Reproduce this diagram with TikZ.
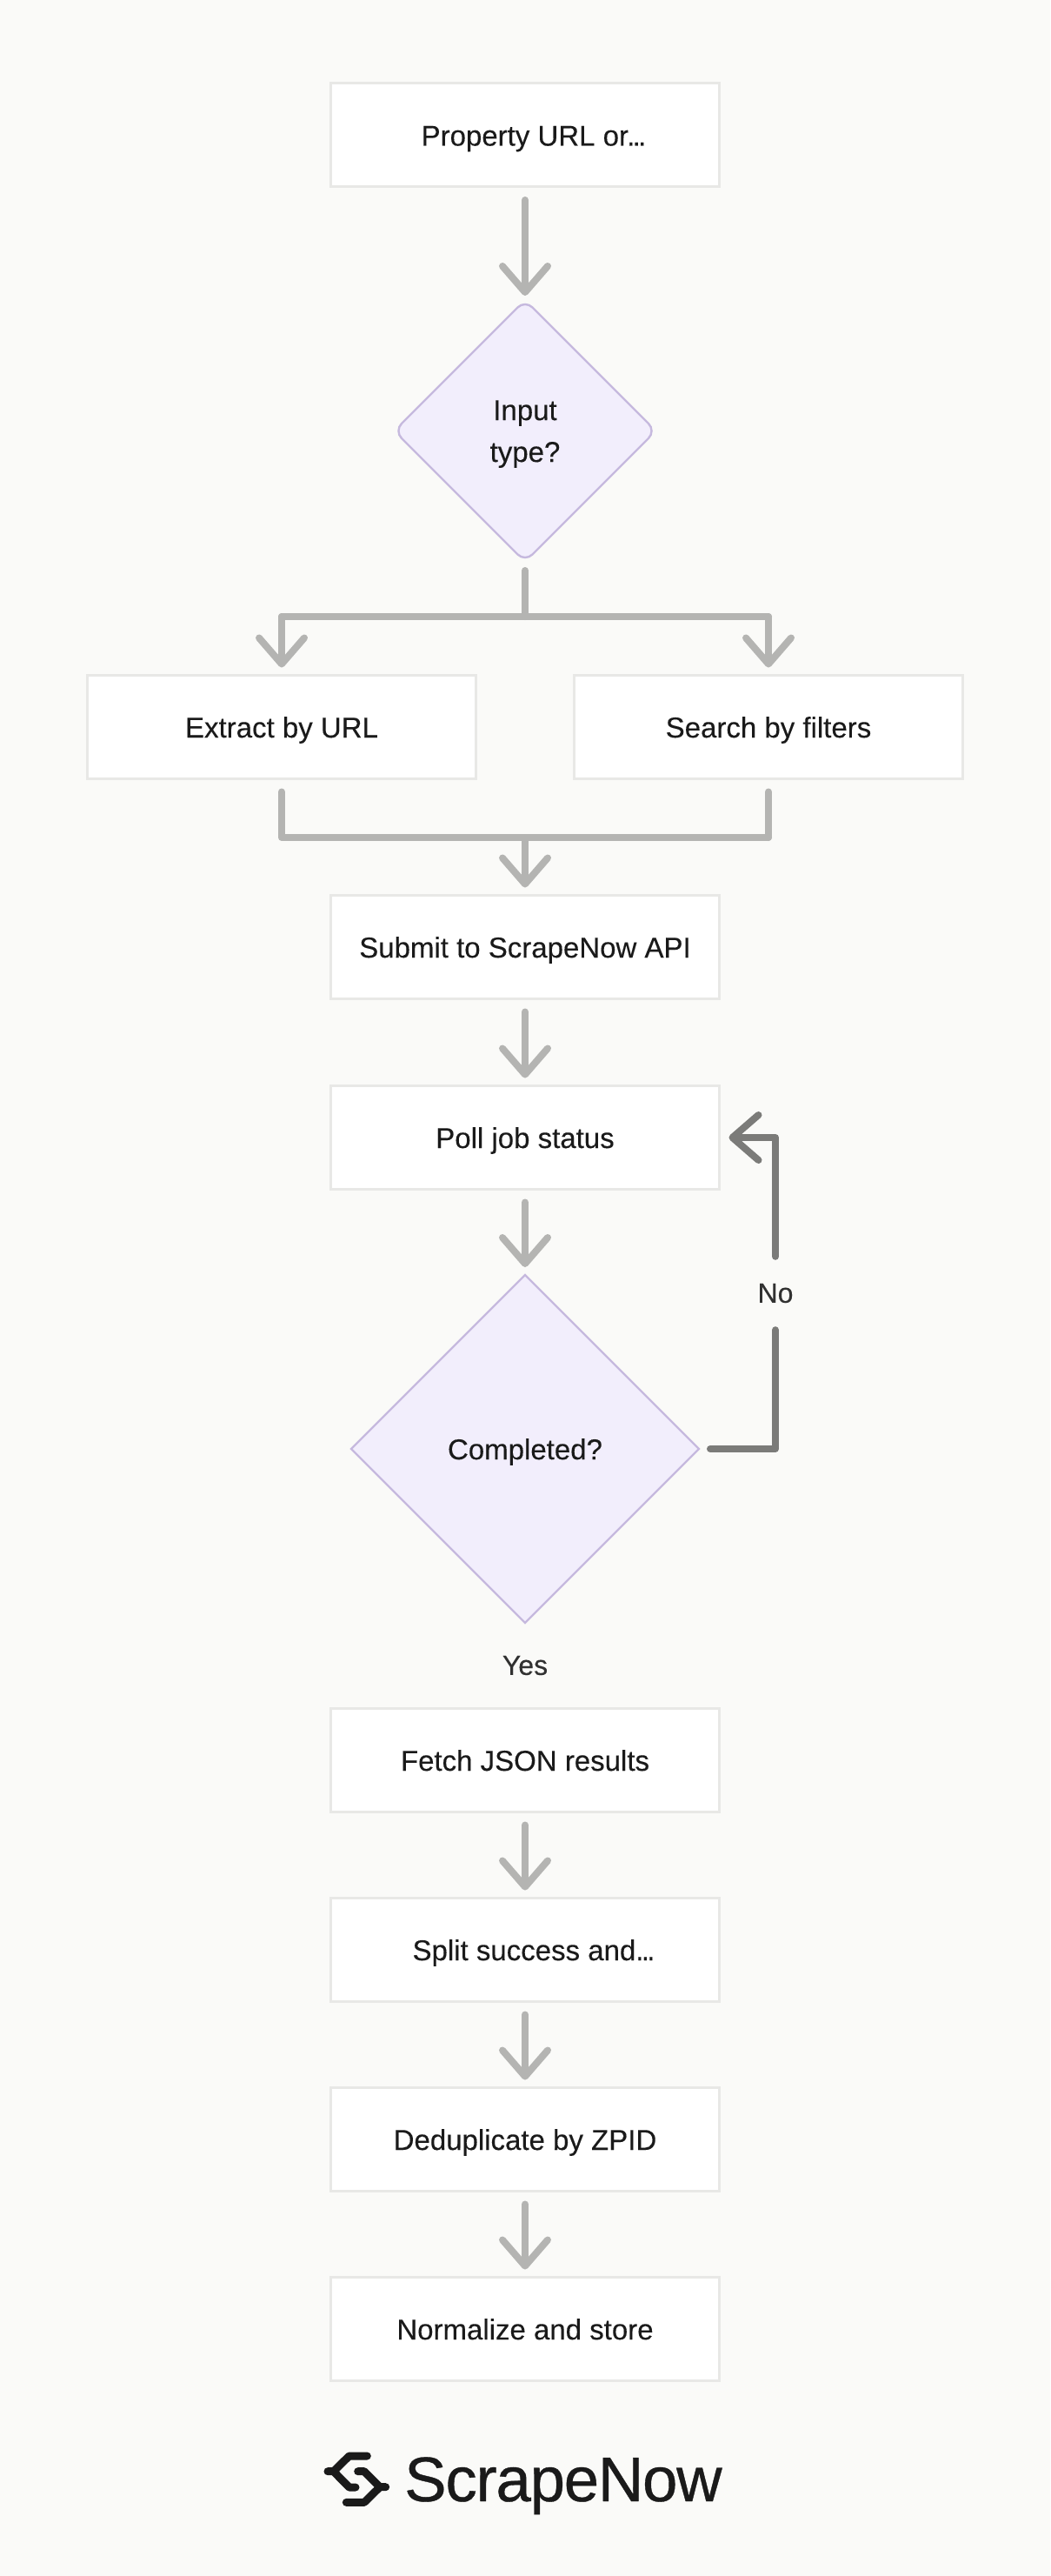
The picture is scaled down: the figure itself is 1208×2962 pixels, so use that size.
\documentclass[tikz,border=0pt]{standalone}
\usepackage{fontspec}
\setmainfont[FakeBold=0.2]{Liberation Sans}
\newfontfamily\logofont[LetterSpace=-1.7,FakeBold=0.5]{Liberation Sans}
\usetikzlibrary{arrows.meta}
\usetikzlibrary{shapes.geometric}
\definecolor{paper}{HTML}{FAFAF8}
\definecolor{boxline}{HTML}{E8E8E6}
\definecolor{lilac}{HTML}{F2EEFC}
\definecolor{lilacline}{HTML}{C6B9DE}
\definecolor{flowgrey}{HTML}{B4B4B2}
\definecolor{loopgrey}{HTML}{7B7B79}
\definecolor{ink}{HTML}{1A1A1A}
\newcommand{\cut}{.\kern-2.7pt.\kern-2.7pt.}
\tikzset{
  stepbox/.style={draw=boxline,fill=white,line width=3pt,outer sep=0pt,
    minimum width=447pt,minimum height=119pt,text=ink,
    font=\fontsize{33}{48}\selectfont,text height=24pt,text depth=0pt},
  choice/.style={shape=diamond,draw=lilacline,fill=lilac,line width=2.4pt,outer sep=0pt,
    inner sep=0pt,aspect=1,text=ink,align=center,font=\fontsize{33}{48}\selectfont},
  edgetext/.style={text=ink!90,font=\fontsize{32}{40}\selectfont},
  barbs/.style={-{Straight Barb[length=30pt,width=52pt,round]}},
  flowline/.style={draw=flowgrey,line width=8pt,line cap=round,line join=round},
  flow/.style={flowline,barbs,shorten >=9pt,shorten <=15pt},
  loopback/.style={draw=loopgrey,line width=8pt,line cap=round,line join=round},
}

\begin{document}
\begin{tikzpicture}[x=1pt,y=-1pt]
  \useasboundingbox[fill=paper] (0,0) rectangle (1208,2962);

  \node[stepbox] (source) at (604,155.5) {\hspace*{20pt}Property URL or\cut};
  \node[choice,minimum size=301pt,rounded corners=12pt] (kind) at (604,495.5) {\rule{0pt}{30pt}Input\\type?};
  \node[stepbox] (byurl) at (324,836) {Extract by URL};
  \node[stepbox] (byfilter) at (884,836) {Search by filters};
  \foreach \n/\y/\t in {submit/1089/Submit to ScrapeNow API,
      poll/1308/Poll job status,
      fetch/2024/Fetch JSON results,
      split/2242/\hspace*{20pt}Split success and\cut,
      dedup/2460/Deduplicate by ZPID,
      store/2678/Normalize and store}
    \node[stepbox] (\n) at (604,\y) {\t};
  \node[choice,minimum size=400pt,text height=24pt,text depth=0pt] (done) at (604,1666) {Completed?};
  \node[edgetext,minimum height=84pt,inner sep=0pt] (no) at (892,1487) {No};
  \node[edgetext] (yes) at (604,1915) {Yes};

  \coordinate (fork) at (604,709);
  \coordinate (forkleft) at (324,709);
  \coordinate (forkright) at (884,709);
  \coordinate (mergeleft) at (324,963);
  \coordinate (mergeright) at (884,963);
  \coordinate (merge) at (604,963);
  \coordinate (turnlow) at (892,1666);
  \coordinate (turnhigh) at (892,1308);

  \draw[flow,shorten >=5pt] (source) -- (kind);
  \draw[flowline,shorten <=10pt] (kind) -- (fork);
  \draw[flow,shorten <=0pt] (forkleft) -- (byurl);
  \draw[flow,shorten <=0pt] (forkright) -- (byfilter);
  \draw[flowline] (forkleft) -- (forkright);
  \draw[flowline,shorten <=15pt] (byurl) -- (mergeleft) -- (mergeright);
  \draw[flowline,shorten <=15pt] (byfilter) -- (mergeright);
  \draw[flow,shorten <=0pt] (merge) -- (submit);
  \foreach \a/\b in {submit/poll,poll/done,fetch/split,split/dedup,dedup/store}
    \draw[flow] (\a) -- (\b);

  \draw[loopback,shorten <=13pt] (done.east) -- (turnlow) -- (no.south);
  \draw[loopback,barbs,shorten >=11pt] (no.north) -- (turnhigh) -- (poll.east);

  % logo
  \begin{scope}[shift={(340,2780)},scale=1/3]
    \draw[ink,line width=9pt,line cap=round,line join=round]
      (247,132) -- (185,132) -- (131,185) -- (111,185)
      (131,185) -- (185,240) -- (207,240);
    \draw[ink,line width=9pt,line cap=round,line join=round]
      (175,292) -- (237,292) -- (291,239) -- (311,239)
      (291,239) -- (237,185) -- (215,185);
  \end{scope}
  \node[anchor=base west,inner sep=0pt,text=ink,font=\logofont\fontsize{72.6}{80}\selectfont]
    (brand) at (465,2876) {ScrapeNow};
\end{tikzpicture}
\end{document}
